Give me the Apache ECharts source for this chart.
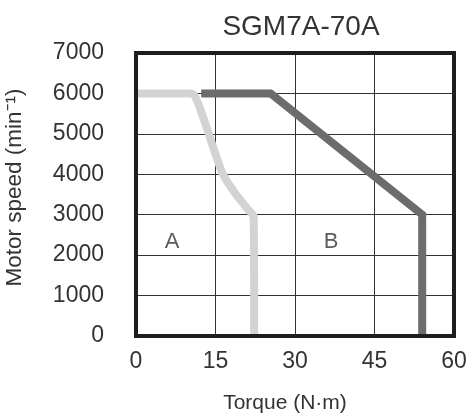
<!DOCTYPE html>
<html><head><meta charset="utf-8">
<script src="https://cdn.jsdelivr.net/npm/echarts@6/dist/echarts.min.js"></script>
<style>html,body{margin:0;padding:0;background:#fff}#c{width:468px;height:414px}</style>
</head><body><div id="c"></div>
<script>
const titleText = 'SGM7A-70A';
const xTicks = ['0', '15', '30', '45', '60'];
const yTicks = ['0', '1000', '2000', '3000', '4000', '5000', '6000', '7000'];
const seriesA = [[0,6000],[10.6,6000],[11.4,5850],[12.3,5550],[13.6,5050],[15,4500],[16.4,4000],[18.6,3550],[21.2,3120],[22.2,2950],[22.3,0]];
const seriesB = [[12.3,6000],[25.4,6000],[54.0,3000],[54.0,0]];
const regionLabels = [[6.8,2330,'A'],[36.8,2330,'B']];

const font = 'Liberation Sans, Arial, sans-serif';
const chart = echarts.init(document.getElementById('c'));
chart.setOption({
  animation: false,
  title: { text: titleText, left: 296, top: 8, textAlign: 'center',
    textStyle: { fontFamily: font, fontSize: 28, fontWeight: 'normal', color: '#333' } },
  grid: { left: 136, right: 14, top: 53, bottom: 78, outerBoundsMode: 'none', containLabel: false,
    show: true, borderColor: '#1e1e1e', borderWidth: 4, z: 10 },
  xAxis: { type: 'value', min: 0, max: 60, interval: 15,
    name: 'Torque (N·m)', nameLocation: 'middle', nameGap: 57,
    nameTextStyle: { fontFamily: font, fontSize: 21, color: '#333', padding: [0, 20, 0, 0] },
    axisLine: { show: false }, axisTick: { show: false },
    axisLabel: { margin: 14, fontFamily: font, fontSize: 23, color: '#333',
      formatter: (v) => xTicks[xTicks.indexOf(String(v))] },
    splitLine: { show: true, lineStyle: { color: '#333', width: 1 } } },
  yAxis: { type: 'value', min: 0, max: 7000, interval: 1000,
    name: 'Motor speed (min⁻¹)', nameLocation: 'middle', nameGap: 110, nameRotate: 90,
    nameTextStyle: { fontFamily: font, fontSize: 22.5, color: '#333', padding: [0, 0, 0, 14] },
    axisLine: { show: false }, axisTick: { show: false },
    axisLabel: { margin: 32, fontFamily: font, fontSize: 23, color: '#333',
      formatter: (v) => yTicks[yTicks.indexOf(String(v))] },
    splitLine: { show: true, lineStyle: { color: '#333', width: 1 } } },
  series: [
    { type: 'line', data: seriesA, symbol: 'none', smooth: 0.25, lineStyle: { color: '#d2d3d4', width: 8, join: 'round' } },
    { type: 'line', data: seriesB, symbol: 'none', lineStyle: { color: '#6b6c6e', width: 8, join: 'miter' } },
    { type: 'scatter', data: regionLabels, symbolSize: 0,
      label: { show: true, position: 'inside', formatter: p => p.data[2], fontFamily: font, fontSize: 22, color: '#333' } }
  ]
});
</script></body></html>
